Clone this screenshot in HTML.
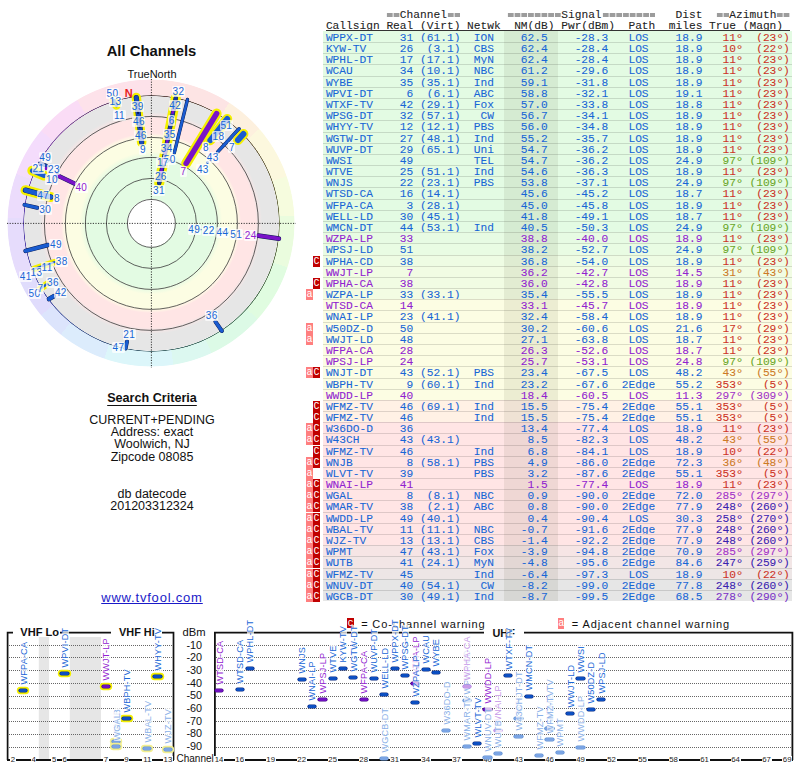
<!DOCTYPE html>
<html><head><meta charset="utf-8"><style>
html,body{margin:0;padding:0;background:#fff;width:800px;height:768px;overflow:hidden;position:relative}
.m{font-family:"Liberation Mono",monospace;font-size:11.217px;white-space:pre;position:absolute;line-height:11.18px;-webkit-text-stroke:0.08px currentColor}
.s{font-family:"Liberation Sans",sans-serif;position:absolute;white-space:pre}
.row{position:absolute;left:323px;width:469px}
.nmc{position:absolute;left:181px;width:54px;top:0;height:100%;background:rgba(40,40,0,0.075)}
.ln{position:absolute;left:0;width:100%;height:1px;background:rgba(0,0,0,0.13)}
.tx{position:absolute;left:2.9px;top:2.1px}
.wa{position:absolute;left:306px;width:7px;height:11px;background:#ff7f7f;color:#fff}
.wc{position:absolute;left:313px;width:7px;height:11px;background:#c00000;color:#fff}
.wl{font-family:"Liberation Mono",monospace;font-size:10px;line-height:11px;text-align:center;position:absolute;left:0;top:0;width:7px}
.dg{display:inline-block;width:6.73px;font-size:13.5px;line-height:10px;vertical-align:top;text-indent:-0.4px;position:relative;top:1.6px}
.g{color:transparent;-webkit-text-stroke:0;background-image:linear-gradient(to right,#9c9c9c 0,#9c9c9c 5.3px,transparent 5.3px),linear-gradient(to right,#9c9c9c 0,#9c9c9c 5.3px,transparent 5.3px);background-size:6.73px 1.6px,6.73px 1.6px;background-repeat:repeat-x;background-position:0.9px 4.3px,0.9px 6.5px}
</style></head><body>
<div class="m" style="left:325.9px;top:9.5px;color:#222">         <span class="g">==</span>Channel<span class="g">==</span>       <span class="g">========</span>Signal<span class="g">========</span>   Dist  <span class="g">==</span>Azimuth<span class="g">==</span></div><div class="m" style="left:325.9px;top:20.7px;color:#222">Callsign Real (Virt) Netwk  NM(dB) Pwr(dBm)  Path  miles True (Magn)</div><div style="position:absolute;left:325.9px;top:30px;width:464.37px;height:1px;background:#333"></div><div class="row" style="top:31px;height:11px;background:#e3fbe3"><div class="nmc"></div><div class="m tx" style="color:#1866d6">WPPX-DT    31 (61.1)  ION    62.5    -28.3   LOS    18.9  <span style="color:#cc3326"> 11<span class="dg">°</span>  (23<span class="dg">°</span>)</span></div></div><div class="row" style="top:42px;height:11px;background:#e3fbe3"><div class="nmc"></div><div class="ln" style="top:0"></div><div class="m tx" style="color:#1866d6">KYW-TV     26  (3.1)  CBS    62.4    -28.4   LOS    18.9  <span style="color:#cc3326"> 10<span class="dg">°</span>  (22<span class="dg">°</span>)</span></div></div><div class="row" style="top:53px;height:11px;background:#e3fbe3"><div class="nmc"></div><div class="ln" style="top:0"></div><div class="m tx" style="color:#1866d6">WPHL-DT    17 (17.1)  MyN    62.4    -28.4   LOS    18.9  <span style="color:#cc3326"> 11<span class="dg">°</span>  (23<span class="dg">°</span>)</span></div></div><div class="row" style="top:64px;height:12px;background:#e3fbe3"><div class="nmc"></div><div class="ln" style="top:0"></div><div class="m tx" style="color:#1866d6">WCAU       34 (10.1)  NBC    61.2    -29.6   LOS    18.9  <span style="color:#cc3326"> 11<span class="dg">°</span>  (23<span class="dg">°</span>)</span></div></div><div class="row" style="top:76px;height:11px;background:#e3fbe3"><div class="nmc"></div><div class="ln" style="top:0"></div><div class="m tx" style="color:#1866d6">WYBE       35 (35.1)  Ind    59.1    -31.8   LOS    18.9  <span style="color:#cc3326"> 11<span class="dg">°</span>  (23<span class="dg">°</span>)</span></div></div><div class="row" style="top:87px;height:11px;background:#e3fbe3"><div class="nmc"></div><div class="ln" style="top:0"></div><div class="m tx" style="color:#1866d6">WPVI-DT     6  (6.1)  ABC    58.8    -32.1   LOS    19.1  <span style="color:#cc3326"> 11<span class="dg">°</span>  (23<span class="dg">°</span>)</span></div></div><div class="row" style="top:98px;height:11px;background:#e3fbe3"><div class="nmc"></div><div class="ln" style="top:0"></div><div class="m tx" style="color:#1866d6">WTXF-TV    42 (29.1)  Fox    57.0    -33.8   LOS    18.8  <span style="color:#cc3326"> 11<span class="dg">°</span>  (23<span class="dg">°</span>)</span></div></div><div class="row" style="top:109px;height:11px;background:#e3fbe3"><div class="nmc"></div><div class="ln" style="top:0"></div><div class="m tx" style="color:#1866d6">WPSG-DT    32 (57.1)   CW    56.7    -34.1   LOS    18.9  <span style="color:#cc3326"> 11<span class="dg">°</span>  (23<span class="dg">°</span>)</span></div></div><div class="row" style="top:120px;height:12px;background:#e3fbe3"><div class="nmc"></div><div class="ln" style="top:0"></div><div class="m tx" style="color:#1866d6">WHYY-TV    12 (12.1)  PBS    56.0    -34.8   LOS    18.9  <span style="color:#cc3326"> 11<span class="dg">°</span>  (23<span class="dg">°</span>)</span></div></div><div class="row" style="top:132px;height:11px;background:#e3fbe3"><div class="nmc"></div><div class="ln" style="top:0"></div><div class="m tx" style="color:#1866d6">WGTW-DT    27 (48.1)  Ind    55.2    -35.7   LOS    18.9  <span style="color:#cc3326"> 11<span class="dg">°</span>  (23<span class="dg">°</span>)</span></div></div><div class="row" style="top:143px;height:11px;background:#e3fbe3"><div class="nmc"></div><div class="ln" style="top:0"></div><div class="m tx" style="color:#1866d6">WUVP-DT    29 (65.1)  Uni    54.7    -36.2   LOS    18.9  <span style="color:#cc3326"> 11<span class="dg">°</span>  (23<span class="dg">°</span>)</span></div></div><div class="row" style="top:154px;height:11px;background:#e3fbe3"><div class="nmc"></div><div class="ln" style="top:0"></div><div class="m tx" style="color:#1866d6">WWSI       49         TEL    54.7    -36.2   LOS    24.9  <span style="color:#6aa628"> 97<span class="dg">°</span> (109<span class="dg">°</span>)</span></div></div><div class="row" style="top:165px;height:11px;background:#e3fbe3"><div class="nmc"></div><div class="ln" style="top:0"></div><div class="m tx" style="color:#1866d6">WTVE       25 (51.1)  Ind    54.6    -36.3   LOS    18.9  <span style="color:#cc3326"> 11<span class="dg">°</span>  (23<span class="dg">°</span>)</span></div></div><div class="row" style="top:176px;height:11px;background:#e3fbe3"><div class="nmc"></div><div class="ln" style="top:0"></div><div class="m tx" style="color:#1866d6">WNJS       22 (23.1)  PBS    53.8    -37.1   LOS    24.9  <span style="color:#6aa628"> 97<span class="dg">°</span> (109<span class="dg">°</span>)</span></div></div><div class="row" style="top:187px;height:12px;background:#e3fbe3"><div class="nmc"></div><div class="ln" style="top:0"></div><div class="m tx" style="color:#1866d6">WTSD-CA    16 (14.1)         45.6    -45.2   LOS    18.7  <span style="color:#cc3326"> 11<span class="dg">°</span>  (23<span class="dg">°</span>)</span></div></div><div class="row" style="top:199px;height:11px;background:#e3fbe3"><div class="nmc"></div><div class="ln" style="top:0"></div><div class="m tx" style="color:#1866d6">WFPA-CA     3 (28.1)         45.0    -45.8   LOS    18.9  <span style="color:#cc3326"> 11<span class="dg">°</span>  (23<span class="dg">°</span>)</span></div></div><div class="row" style="top:210px;height:11px;background:#e3fbe3"><div class="nmc"></div><div class="ln" style="top:0"></div><div class="m tx" style="color:#1866d6">WELL-LD    30 (45.1)         41.8    -49.1   LOS    18.7  <span style="color:#cc3326"> 11<span class="dg">°</span>  (23<span class="dg">°</span>)</span></div></div><div class="row" style="top:221px;height:11px;background:#e3fbe3"><div class="nmc"></div><div class="ln" style="top:0"></div><div class="m tx" style="color:#1866d6">WMCN-DT    44 (53.1)  Ind    40.5    -50.3   LOS    24.9  <span style="color:#6aa628"> 97<span class="dg">°</span> (109<span class="dg">°</span>)</span></div></div><div class="row" style="top:232px;height:11px;background:#e7fbe3"><div class="nmc"></div><div class="ln" style="top:0"></div><div class="m tx" style="color:#9122d0">WZPA-LP    33                38.8    -40.0   LOS    18.9  <span style="color:#cc3326"> 11<span class="dg">°</span>  (23<span class="dg">°</span>)</span></div></div><div class="row" style="top:243px;height:12px;background:#e9fce3"><div class="nmc"></div><div class="ln" style="top:0"></div><div class="m tx" style="color:#1866d6">WPSJ-LD    51                38.2    -52.7   LOS    24.9  <span style="color:#6aa628"> 97<span class="dg">°</span> (109<span class="dg">°</span>)</span></div></div><div class="row" style="top:255px;height:11px;background:#eefce3"><div class="nmc"></div><div class="ln" style="top:0"></div><div class="m tx" style="color:#1866d6">WPHA-CD    38                36.8    -54.0   LOS    18.9  <span style="color:#cc3326"> 11<span class="dg">°</span>  (23<span class="dg">°</span>)</span></div></div><div class="wc" style="top:256.00px"><span class="wl">C</span></div><div class="row" style="top:266px;height:11px;background:#f1fce3"><div class="nmc"></div><div class="ln" style="top:0"></div><div class="m tx" style="color:#9122d0">WWJT-LP     7                36.2    -42.7   LOS    14.5  <span style="color:#cc7a26"> 31<span class="dg">°</span>  (43<span class="dg">°</span>)</span></div></div><div class="row" style="top:277px;height:11px;background:#f1fce3"><div class="nmc"></div><div class="ln" style="top:0"></div><div class="m tx" style="color:#9122d0">WPHA-CA    38                36.0    -42.8   LOS    18.9  <span style="color:#cc3326"> 11<span class="dg">°</span>  (23<span class="dg">°</span>)</span></div></div><div class="wc" style="top:278.00px"><span class="wl">C</span></div><div class="row" style="top:288px;height:11px;background:#f3fce3"><div class="nmc"></div><div class="ln" style="top:0"></div><div class="m tx" style="color:#1866d6">WZPA-LP    33 (33.1)         35.4    -55.5   LOS    18.9  <span style="color:#cc3326"> 11<span class="dg">°</span>  (23<span class="dg">°</span>)</span></div></div><div class="wa" style="top:289.00px"><span class="wl">a</span></div><div class="row" style="top:299px;height:11px;background:#fcfde3"><div class="nmc"></div><div class="ln" style="top:0"></div><div class="m tx" style="color:#9122d0">WTSD-CA    14                33.1    -45.7   LOS    18.9  <span style="color:#cc3326"> 11<span class="dg">°</span>  (23<span class="dg">°</span>)</span></div></div><div class="row" style="top:310px;height:12px;background:#fcfde3"><div class="nmc"></div><div class="ln" style="top:0"></div><div class="m tx" style="color:#1866d6">WNAI-LP    23 (41.1)         32.4    -58.4   LOS    18.9  <span style="color:#cc3326"> 11<span class="dg">°</span>  (23<span class="dg">°</span>)</span></div></div><div class="row" style="top:322px;height:11px;background:#fcfde3"><div class="nmc"></div><div class="ln" style="top:0"></div><div class="m tx" style="color:#1866d6">W50DZ-D    50                30.2    -60.6   LOS    21.6  <span style="color:#cc3326"> 17<span class="dg">°</span>  (29<span class="dg">°</span>)</span></div></div><div class="wa" style="top:323.00px"><span class="wl">a</span></div><div class="row" style="top:333px;height:11px;background:#fcfde3"><div class="nmc"></div><div class="ln" style="top:0"></div><div class="m tx" style="color:#1866d6">WWJT-LD    48                27.1    -63.8   LOS    18.7  <span style="color:#cc3326"> 11<span class="dg">°</span>  (23<span class="dg">°</span>)</span></div></div><div class="wa" style="top:334.00px"><span class="wl">a</span></div><div class="row" style="top:344px;height:11px;background:#fcfde3"><div class="nmc"></div><div class="ln" style="top:0"></div><div class="m tx" style="color:#9122d0">WFPA-CA    28                26.3    -52.6   LOS    18.7  <span style="color:#cc3326"> 11<span class="dg">°</span>  (23<span class="dg">°</span>)</span></div></div><div class="row" style="top:355px;height:11px;background:#fcfde3"><div class="nmc"></div><div class="ln" style="top:0"></div><div class="m tx" style="color:#9122d0">WPSJ-LP    24                25.7    -53.1   LOS    24.8  <span style="color:#6aa628"> 97<span class="dg">°</span> (109<span class="dg">°</span>)</span></div></div><div class="row" style="top:366px;height:12px;background:#fcfde3"><div class="nmc"></div><div class="ln" style="top:0"></div><div class="m tx" style="color:#1866d6">WNJT-DT    43 (52.1)  PBS    23.4    -67.5   LOS    48.2  <span style="color:#cc7a26"> 43<span class="dg">°</span>  (55<span class="dg">°</span>)</span></div></div><div class="wa" style="top:367.00px"><span class="wl">a</span></div><div class="wc" style="top:367.00px"><span class="wl">C</span></div><div class="row" style="top:378px;height:11px;background:#fcfde3"><div class="nmc"></div><div class="ln" style="top:0"></div><div class="m tx" style="color:#1866d6">WBPH-TV     9 (60.1)  Ind    23.2    -67.6  2Edge   55.2  <span style="color:#cc3326">353<span class="dg">°</span>   (5<span class="dg">°</span>)</span></div></div><div class="row" style="top:389px;height:11px;background:#fcfde3"><div class="nmc"></div><div class="ln" style="top:0"></div><div class="m tx" style="color:#9122d0">WWDD-LP    40                18.4    -60.5   LOS    11.3  <span style="color:#a232c8">297<span class="dg">°</span> (309<span class="dg">°</span>)</span></div></div><div class="row" style="top:400px;height:11px;background:#fff1e5"><div class="nmc"></div><div class="ln" style="top:0"></div><div class="m tx" style="color:#1866d6">WFMZ-TV    46 (69.1)  Ind    15.5    -75.4  2Edge   55.1  <span style="color:#cc3326">353<span class="dg">°</span>   (5<span class="dg">°</span>)</span></div></div><div class="wc" style="top:401.00px"><span class="wl">C</span></div><div class="row" style="top:411px;height:11px;background:#fff1e5"><div class="nmc"></div><div class="ln" style="top:0"></div><div class="m tx" style="color:#1866d6">WFMZ-TV    46         Ind    15.5    -75.4  2Edge   55.1  <span style="color:#cc3326">353<span class="dg">°</span>   (5<span class="dg">°</span>)</span></div></div><div class="wc" style="top:412.00px"><span class="wl">C</span></div><div class="row" style="top:422px;height:11px;background:#ffe5e5"><div class="nmc"></div><div class="ln" style="top:0"></div><div class="m tx" style="color:#1866d6">W36DO-D    36                13.4    -77.4   LOS    18.9  <span style="color:#cc3326"> 11<span class="dg">°</span>  (23<span class="dg">°</span>)</span></div></div><div class="wa" style="top:423.00px"><span class="wl">a</span></div><div class="wc" style="top:423.00px"><span class="wl">C</span></div><div class="row" style="top:433px;height:12px;background:#ffe5e5"><div class="nmc"></div><div class="ln" style="top:0"></div><div class="m tx" style="color:#1866d6">W43CH      43 (43.1)          8.5    -82.3   LOS    48.2  <span style="color:#cc7a26"> 43<span class="dg">°</span>  (55<span class="dg">°</span>)</span></div></div><div class="wa" style="top:434.00px"><span class="wl">a</span></div><div class="wc" style="top:434.00px"><span class="wl">C</span></div><div class="row" style="top:445px;height:11px;background:#ffe5e5"><div class="nmc"></div><div class="ln" style="top:0"></div><div class="m tx" style="color:#1866d6">WFMZ-TV    46         Ind     6.8    -84.1   LOS    18.9  <span style="color:#cc3326"> 10<span class="dg">°</span>  (22<span class="dg">°</span>)</span></div></div><div class="wc" style="top:446.00px"><span class="wl">C</span></div><div class="row" style="top:456px;height:11px;background:#ffe5e5"><div class="nmc"></div><div class="ln" style="top:0"></div><div class="m tx" style="color:#1866d6">WNJB        8 (58.1)  PBS     4.9    -86.0  2Edge   72.3  <span style="color:#cc7a26"> 36<span class="dg">°</span>  (48<span class="dg">°</span>)</span></div></div><div class="wa" style="top:457.00px"><span class="wl">a</span></div><div class="wc" style="top:457.00px"><span class="wl">C</span></div><div class="row" style="top:467px;height:11px;background:#ffe5e5"><div class="nmc"></div><div class="ln" style="top:0"></div><div class="m tx" style="color:#1866d6">WLVT-TV    39         PBS     3.2    -87.6  2Edge   55.1  <span style="color:#cc3326">353<span class="dg">°</span>   (5<span class="dg">°</span>)</span></div></div><div class="wa" style="top:468.00px"><span class="wl">a</span></div><div class="row" style="top:478px;height:11px;background:#ffe5e5"><div class="nmc"></div><div class="ln" style="top:0"></div><div class="m tx" style="color:#9122d0">WNAI-LP    41                 1.5    -77.4   LOS    18.9  <span style="color:#cc3326"> 11<span class="dg">°</span>  (23<span class="dg">°</span>)</span></div></div><div class="wa" style="top:479.00px"><span class="wl">a</span></div><div class="wc" style="top:479.00px"><span class="wl">C</span></div><div class="row" style="top:489px;height:11px;background:#ffe5e5"><div class="nmc"></div><div class="ln" style="top:0"></div><div class="m tx" style="color:#1866d6">WGAL        8  (8.1)  NBC     0.9    -90.0  2Edge   72.0  <span style="color:#a232c8">285<span class="dg">°</span> (297<span class="dg">°</span>)</span></div></div><div class="wa" style="top:490.00px"><span class="wl">a</span></div><div class="wc" style="top:490.00px"><span class="wl">C</span></div><div class="row" style="top:500px;height:12px;background:#ffe5e5"><div class="nmc"></div><div class="ln" style="top:0"></div><div class="m tx" style="color:#1866d6">WMAR-TV    38  (2.1)  ABC     0.8    -90.0  2Edge   77.9  <span style="color:#3a22b0">248<span class="dg">°</span> (260<span class="dg">°</span>)</span></div></div><div class="wa" style="top:501.00px"><span class="wl">a</span></div><div class="wc" style="top:501.00px"><span class="wl">C</span></div><div class="row" style="top:512px;height:11px;background:#ffe5e5"><div class="nmc"></div><div class="ln" style="top:0"></div><div class="m tx" style="color:#1866d6">WWDD-LP    49 (40.1)          0.4    -90.4   LOS    30.3  <span style="color:#3a22b0">258<span class="dg">°</span> (270<span class="dg">°</span>)</span></div></div><div class="wa" style="top:513.00px"><span class="wl">a</span></div><div class="wc" style="top:513.00px"><span class="wl">C</span></div><div class="row" style="top:523px;height:11px;background:#ffe5e5"><div class="nmc"></div><div class="ln" style="top:0"></div><div class="m tx" style="color:#1866d6">WBAL-TV    11 (11.1)  NBC    -0.7    -91.6  2Edge   77.9  <span style="color:#3a22b0">248<span class="dg">°</span> (260<span class="dg">°</span>)</span></div></div><div class="wa" style="top:524.00px"><span class="wl">a</span></div><div class="wc" style="top:524.00px"><span class="wl">C</span></div><div class="row" style="top:534px;height:11px;background:#ffe5e5"><div class="nmc"></div><div class="ln" style="top:0"></div><div class="m tx" style="color:#1866d6">WJZ-TV     13 (13.1)  CBS    -1.4    -92.2  2Edge   77.9  <span style="color:#3a22b0">248<span class="dg">°</span> (260<span class="dg">°</span>)</span></div></div><div class="wa" style="top:535.00px"><span class="wl">a</span></div><div class="wc" style="top:535.00px"><span class="wl">C</span></div><div class="row" style="top:545px;height:11px;background:#f6e5e5"><div class="nmc"></div><div class="ln" style="top:0"></div><div class="m tx" style="color:#1866d6">WPMT       47 (43.1)  Fox    -3.9    -94.8  2Edge   70.9  <span style="color:#a232c8">285<span class="dg">°</span> (297<span class="dg">°</span>)</span></div></div><div class="wa" style="top:546.00px"><span class="wl">a</span></div><div class="wc" style="top:546.00px"><span class="wl">C</span></div><div class="row" style="top:556px;height:12px;background:#f2e6e6"><div class="nmc"></div><div class="ln" style="top:0"></div><div class="m tx" style="color:#1866d6">WUTB       41 (24.1)  MyN    -4.8    -95.6  2Edge   84.6  <span style="color:#3a22b0">247<span class="dg">°</span> (259<span class="dg">°</span>)</span></div></div><div class="wa" style="top:557.00px"><span class="wl">a</span></div><div class="wc" style="top:557.00px"><span class="wl">C</span></div><div class="row" style="top:568px;height:11px;background:#ede6e6"><div class="nmc"></div><div class="ln" style="top:0"></div><div class="m tx" style="color:#1866d6">WFMZ-TV    45         Ind    -6.4    -97.3   LOS    18.9  <span style="color:#cc3326"> 10<span class="dg">°</span>  (22<span class="dg">°</span>)</span></div></div><div class="wa" style="top:569.00px"><span class="wl">a</span></div><div class="wc" style="top:569.00px"><span class="wl">C</span></div><div class="row" style="top:579px;height:11px;background:#e6e6e6"><div class="nmc"></div><div class="ln" style="top:0"></div><div class="m tx" style="color:#1866d6">WNUV-DT    40 (54.1)   CW    -8.2    -99.0  2Edge   77.8  <span style="color:#3a22b0">248<span class="dg">°</span> (260<span class="dg">°</span>)</span></div></div><div class="wa" style="top:580.00px"><span class="wl">a</span></div><div class="wc" style="top:580.00px"><span class="wl">C</span></div><div class="row" style="top:590px;height:11px;background:#e6e6e6"><div class="nmc"></div><div class="ln" style="top:0"></div><div class="m tx" style="color:#1866d6">WGCB-DT    30 (49.1)  Ind    -8.7    -99.5  2Edge   68.5  <span style="color:#7a32c8">278<span class="dg">°</span> (290<span class="dg">°</span>)</span></div></div><div class="wa" style="top:591.00px"><span class="wl">a</span></div><div class="wc" style="top:591.00px"><span class="wl">C</span></div><div class="s" style="left:0;width:303px;text-align:center;top:42.8px;font-size:14.8px;font-weight:bold;line-height:16px;color:#111">All Channels</div><div class="s" style="left:0;width:304px;text-align:center;top:67.7px;font-size:11px;line-height:12px;color:#111">TrueNorth</div><div style="position:absolute;left:7.400000000000006px;top:79.4px;width:288px;height:288px;border-radius:50%;
background:conic-gradient(from 0deg, #fde4e4 0deg 33deg, #fdf0de 33deg 49deg, #fcf8de 49deg 71deg, #f6fcde 71deg 87deg, #eafcde 87deg 108deg, #e0fce0 108deg 132deg, #dcfae6 132deg 155deg, #dcf8f0 155deg 171deg, #dcf6fa 171deg 199deg, #dcecfc 199deg 219deg, #dce4fc 219deg 230deg, #e0dcfc 230deg 249deg, #e6dcfc 249deg 272deg, #ecdcfc 272deg 290deg, #f4dcfc 290deg 310deg, #fadcf6 310deg 329deg, #fde2ea 329deg 360deg);
-webkit-mask-image:radial-gradient(circle closest-side, transparent 0, transparent 88.6%, #000 88.9%, #000 99.3%, rgba(0,0,0,0) 100%);
mask-image:radial-gradient(circle closest-side, transparent 0, transparent 88.6%, #000 88.9%, #000 99.3%, rgba(0,0,0,0) 100%)"></div><div style="position:absolute;left:23.400000000000006px;top:95.4px;width:256px;height:256px;border-radius:50%;
background:radial-gradient(circle closest-side, #fff 0, #fff 18.6%, #e3fbe3 18.9%, #e3fbe3 50.5%, #fcfde3 55.7%, #fcfde3 66.6%, #fff1e5 68.8%, #ffe5e5 70.3%, #ffe5e5 81.5%, #e6e6e6 86.7%, #e6e6e6 100%)"></div><div style="position:absolute;left:22.700000000000017px;top:94.70000000000002px;width:257.4px;height:257.4px;border-radius:50%;
background:conic-gradient(from 0deg, #604848 0deg, #706048 45deg, #6a7048 90deg, #487058 135deg, #486a70 180deg, #4858a0 225deg, #5a40b0 270deg, #8040a0 315deg, #604848 360deg);
-webkit-mask-image:radial-gradient(circle closest-side, transparent 0, transparent 98.9%, #000 99.3%, #000 99.8%, transparent 100%);
mask-image:radial-gradient(circle closest-side, transparent 0, transparent 98.9%, #000 99.3%, #000 99.8%, transparent 100%)"></div><svg style="position:absolute;left:0;top:0" width="305" height="380" viewBox="0 0 305 380"><circle cx="151.4" cy="223.4" r="24" fill="none" stroke="#3a3a3a" stroke-width="0.8"/><circle cx="151.4" cy="223.4" r="45" fill="none" stroke="#3a3a3a" stroke-width="0.8"/><circle cx="151.4" cy="223.4" r="66" fill="none" stroke="#3a3a3a" stroke-width="0.8"/><circle cx="151.4" cy="223.4" r="86" fill="none" stroke="#3a3a3a" stroke-width="0.8"/><circle cx="151.4" cy="223.4" r="107" fill="none" stroke="#3a3a3a" stroke-width="0.8"/><line x1="7" y1="223.4" x2="296" y2="223.4" stroke="#222" stroke-width="0.9" stroke-dasharray="1.2,1.4"/><line x1="151.4" y1="79" x2="151.4" y2="368" stroke="#222" stroke-width="0.9" stroke-dasharray="1.2,1.4"/><line x1="159.2" y1="183.2" x2="175.8" y2="97.8" stroke="#f4f000" stroke-width="10" stroke-linecap="round"/><line x1="159.2" y1="183.2" x2="175.8" y2="97.8" stroke="#0a1a50" stroke-width="4.4" stroke-linecap="round"/><line x1="159.2" y1="183.2" x2="175.8" y2="97.8" stroke="#1a3a9a" stroke-width="3.6" stroke-linecap="round"/><line x1="161" y1="173" x2="174" y2="106" stroke="#7a12c8" stroke-width="2.4" stroke-dasharray="5,5"/><line x1="174.3" y1="152.9" x2="187.5" y2="99.5" stroke="#0a1a50" stroke-width="3.4000000000000004" stroke-linecap="round"/><line x1="174.3" y1="152.9" x2="187.5" y2="99.5" stroke="#1a5cd0" stroke-width="2.6" stroke-linecap="round"/><line x1="186.2" y1="163.4" x2="216.6" y2="113.6" stroke="#f4f000" stroke-width="10" stroke-linecap="round"/><line x1="186.2" y1="163.4" x2="216.6" y2="113.6" stroke="#7a12c8" stroke-width="5.6" stroke-linecap="round"/><line x1="210.3" y1="140.3" x2="227.3" y2="118.9" stroke="#f4f000" stroke-width="9.8" stroke-linecap="round"/><line x1="210.3" y1="140.3" x2="227.3" y2="118.9" stroke="#1a5cd0" stroke-width="5.8" stroke-linecap="round"/><line x1="217.7" y1="151.9" x2="239.1" y2="128.8" stroke="#0a1a50" stroke-width="3.5999999999999996" stroke-linecap="round"/><line x1="217.7" y1="151.9" x2="239.1" y2="128.8" stroke="#1a5cd0" stroke-width="2.8" stroke-linecap="round"/><circle cx="207.5" cy="162.5" r="1.4" fill="#1a5cd0"/><line x1="238" y1="140" x2="243.4" y2="134" stroke="#f4f000" stroke-width="10" stroke-linecap="round"/><line x1="238" y1="140" x2="243.4" y2="134" stroke="#1a5cd0" stroke-width="6" stroke-linecap="round"/><line x1="136.3" y1="97.5" x2="141.7" y2="142.4" stroke="#f4f000" stroke-width="9.5" stroke-linecap="round"/><line x1="136.3" y1="97.5" x2="141.7" y2="142.4" stroke="#0a1a50" stroke-width="5.2" stroke-linecap="round"/><line x1="136.3" y1="97.5" x2="141.7" y2="142.4" stroke="#1a4ab8" stroke-width="4.4" stroke-linecap="round"/><line x1="137" y1="104" x2="141" y2="138" stroke="#0a1a60" stroke-width="1.8" stroke-dasharray="3,4"/><line x1="113.5" y1="99.5" x2="116.5" y2="105.5" stroke="#f4f000" stroke-width="8.5" stroke-linecap="round"/><line x1="113.5" y1="99.5" x2="116.5" y2="105.5" stroke="#1a5cd0" stroke-width="3.4" stroke-linecap="round"/><line x1="32.3" y1="170.7" x2="44" y2="175.6" stroke="#f4f000" stroke-width="10" stroke-linecap="round"/><line x1="32.3" y1="170.7" x2="44" y2="175.6" stroke="#1a5cd0" stroke-width="4.8" stroke-linecap="round"/><line x1="40" y1="163" x2="47" y2="166" stroke="#0a1a50" stroke-width="3.5999999999999996" stroke-linecap="round"/><line x1="40" y1="163" x2="47" y2="166" stroke="#1a4ab8" stroke-width="2.8" stroke-linecap="round"/><circle cx="46" cy="168.5" r="1.7" fill="#7a12c8"/><line x1="57.7" y1="175.6" x2="74.3" y2="183.4" stroke="#0a1a50" stroke-width="4.4" stroke-linecap="round"/><line x1="57.7" y1="175.6" x2="74.3" y2="183.4" stroke="#7a12c8" stroke-width="3.6" stroke-linecap="round"/><line x1="25.5" y1="190.2" x2="50.9" y2="197" stroke="#f4f000" stroke-width="10" stroke-linecap="round"/><line x1="25.5" y1="190.2" x2="50.9" y2="197" stroke="#0a1a50" stroke-width="5.3999999999999995" stroke-linecap="round"/><line x1="25.5" y1="190.2" x2="50.9" y2="197" stroke="#1a5cd0" stroke-width="4.6" stroke-linecap="round"/><line x1="24.5" y1="204.9" x2="37.2" y2="207.8" stroke="#0a1a50" stroke-width="4.0" stroke-linecap="round"/><line x1="24.5" y1="204.9" x2="37.2" y2="207.8" stroke="#1a5cd0" stroke-width="3.2" stroke-linecap="round"/><line x1="25.5" y1="250.9" x2="48" y2="245" stroke="#0a1a50" stroke-width="4.4" stroke-linecap="round"/><line x1="25.5" y1="250.9" x2="48" y2="245" stroke="#1a5cd0" stroke-width="3.6" stroke-linecap="round"/><line x1="34.3" y1="268.8" x2="54.8" y2="262" stroke="#f4f000" stroke-width="6.5" stroke-linecap="round"/><line x1="34.3" y1="268.8" x2="54.8" y2="262" stroke="#1a5cd0" stroke-width="2" stroke-linecap="round"/><line x1="40" y1="289" x2="47" y2="284" stroke="#f4f000" stroke-width="6.5" stroke-linecap="round"/><line x1="40" y1="289" x2="47" y2="284" stroke="#1a5cd0" stroke-width="2.2" stroke-linecap="round"/><line x1="49" y1="299" x2="53.8" y2="296.2" stroke="#0a1a50" stroke-width="4.6" stroke-linecap="round"/><line x1="49" y1="299" x2="53.8" y2="296.2" stroke="#1a5cd0" stroke-width="3.8" stroke-linecap="round"/><line x1="125.5" y1="348.5" x2="127" y2="341.5" stroke="#0a1a50" stroke-width="4.0" stroke-linecap="round"/><line x1="125.5" y1="348.5" x2="127" y2="341.5" stroke="#1a5cd0" stroke-width="3.2" stroke-linecap="round"/><line x1="200" y1="229.5" x2="258" y2="235.5" stroke="#1a4ab8" stroke-width="1.3" stroke-dasharray="1.5,4"/><line x1="258.4" y1="235.6" x2="278.9" y2="238.6" stroke="#0a1a50" stroke-width="4.6" stroke-linecap="round"/><line x1="258.4" y1="235.6" x2="278.9" y2="238.6" stroke="#7a12c8" stroke-width="3.8" stroke-linecap="round"/><line x1="215.4" y1="321.6" x2="221.9" y2="331" stroke="#0a1a50" stroke-width="4.0" stroke-linecap="round"/><line x1="215.4" y1="321.6" x2="221.9" y2="331" stroke="#1a5cd0" stroke-width="3.2" stroke-linecap="round"/></svg><div class="s" style="left:171.8px;top:86.4px;width:13.0px;text-align:center;font-size:10px;letter-spacing:0.4px;text-indent:0.4px;line-height:11px;color:#1866d6;background:rgba(255,255,255,0.72);border-radius:1.5px">32</div><div class="s" style="left:168.5px;top:99.7px;width:13.0px;text-align:center;font-size:10px;letter-spacing:0.4px;text-indent:0.4px;line-height:11px;color:#1866d6;background:rgba(255,255,255,0.72);border-radius:1.5px">42</div><div class="s" style="left:168.0px;top:114.7px;width:7.0px;text-align:center;font-size:10px;letter-spacing:0.4px;text-indent:0.4px;line-height:11px;color:#1866d6;background:rgba(255,255,255,0.72);border-radius:1.5px">6</div><div class="s" style="left:163.0px;top:129.0px;width:13.0px;text-align:center;font-size:10px;letter-spacing:0.4px;text-indent:0.4px;line-height:11px;color:#1866d6;background:rgba(255,255,255,0.72);border-radius:1.5px">35</div><div class="s" style="left:160.1px;top:143.1px;width:13.0px;text-align:center;font-size:10px;letter-spacing:0.4px;text-indent:0.4px;line-height:11px;color:#1866d6;background:rgba(255,255,255,0.72);border-radius:1.5px">34</div><div class="s" style="left:163.0px;top:153.7px;width:13.0px;text-align:center;font-size:10px;letter-spacing:0.4px;text-indent:0.4px;line-height:11px;color:#1866d6;background:rgba(255,255,255,0.72);border-radius:1.5px">50</div><div class="s" style="left:156.2px;top:156.7px;width:13.0px;text-align:center;font-size:10px;letter-spacing:0.4px;text-indent:0.4px;line-height:11px;color:#1866d6;background:rgba(255,255,255,0.72);border-radius:1.5px">17</div><div class="s" style="left:154.2px;top:170.7px;width:13.0px;text-align:center;font-size:10px;letter-spacing:0.4px;text-indent:0.4px;line-height:11px;color:#1866d6;background:rgba(255,255,255,0.72);border-radius:1.5px">26</div><div class="s" style="left:152.3px;top:185.0px;width:13.0px;text-align:center;font-size:10px;letter-spacing:0.4px;text-indent:0.4px;line-height:11px;color:#1866d6;background:rgba(255,255,255,0.72);border-radius:1.5px">31</div><div class="s" style="left:179.7px;top:165.5px;width:7.0px;text-align:center;font-size:10px;letter-spacing:0.4px;text-indent:0.4px;line-height:11px;color:#9122d0;background:rgba(255,255,255,0.72);border-radius:1.5px">7</div><div class="s" style="left:196.2px;top:163.6px;width:13.0px;text-align:center;font-size:10px;letter-spacing:0.4px;text-indent:0.4px;line-height:11px;color:#1866d6;background:rgba(255,255,255,0.72);border-radius:1.5px">43</div><div class="s" style="left:206.0px;top:151.8px;width:13.0px;text-align:center;font-size:10px;letter-spacing:0.4px;text-indent:0.4px;line-height:11px;color:#1866d6;background:rgba(255,255,255,0.72);border-radius:1.5px">43</div><div class="s" style="left:202.2px;top:142.1px;width:7.0px;text-align:center;font-size:10px;letter-spacing:0.4px;text-indent:0.4px;line-height:11px;color:#1866d6;background:rgba(255,255,255,0.72);border-radius:1.5px">8</div><div class="s" style="left:211.9px;top:131.3px;width:13.0px;text-align:center;font-size:10px;letter-spacing:0.4px;text-indent:0.4px;line-height:11px;color:#1866d6;background:rgba(255,255,255,0.72);border-radius:1.5px">18</div><div class="s" style="left:219.7px;top:120.0px;width:13.0px;text-align:center;font-size:10px;letter-spacing:0.4px;text-indent:0.4px;line-height:11px;color:#1866d6;background:rgba(255,255,255,0.72);border-radius:1.5px">51</div><div class="s" style="left:228.2px;top:142.3px;width:7.0px;text-align:center;font-size:10px;letter-spacing:0.4px;text-indent:0.4px;line-height:11px;color:#1866d6;background:rgba(255,255,255,0.72);border-radius:1.5px">7</div><div class="s" style="left:131.1px;top:101.0px;width:13.0px;text-align:center;font-size:10px;letter-spacing:0.4px;text-indent:0.4px;line-height:11px;color:#1866d6;background:rgba(255,255,255,0.72);border-radius:1.5px">39</div><div class="s" style="left:132.3px;top:115.6px;width:13.0px;text-align:center;font-size:10px;letter-spacing:0.4px;text-indent:0.4px;line-height:11px;color:#1866d6;background:rgba(255,255,255,0.72);border-radius:1.5px">46</div><div class="s" style="left:134.2px;top:129.9px;width:13.0px;text-align:center;font-size:10px;letter-spacing:0.4px;text-indent:0.4px;line-height:11px;color:#1866d6;background:rgba(255,255,255,0.72);border-radius:1.5px">46</div><div class="s" style="left:139.2px;top:143.5px;width:7.0px;text-align:center;font-size:10px;letter-spacing:0.4px;text-indent:0.4px;line-height:11px;color:#1866d6;background:rgba(255,255,255,0.72);border-radius:1.5px">9</div><div class="s" style="left:105.9px;top:88.3px;width:13.0px;text-align:center;font-size:10px;letter-spacing:0.4px;text-indent:0.4px;line-height:11px;color:#1866d6;background:rgba(255,255,255,0.72);border-radius:1.5px">50</div><div class="s" style="left:108.9px;top:96.1px;width:13.0px;text-align:center;font-size:10px;letter-spacing:0.4px;text-indent:0.4px;line-height:11px;color:#1866d6;background:rgba(255,255,255,0.72);border-radius:1.5px">13</div><div class="s" style="left:112.8px;top:109.7px;width:13.0px;text-align:center;font-size:10px;letter-spacing:0.4px;text-indent:0.4px;line-height:11px;color:#1866d6;background:rgba(255,255,255,0.72);border-radius:1.5px">11</div><div class="s" style="left:38.5px;top:151.7px;width:13.0px;text-align:center;font-size:10px;letter-spacing:0.4px;text-indent:0.4px;line-height:11px;color:#1866d6;background:rgba(255,255,255,0.72);border-radius:1.5px">49</div><div class="s" style="left:31.7px;top:163.4px;width:13.0px;text-align:center;font-size:10px;letter-spacing:0.4px;text-indent:0.4px;line-height:11px;color:#1866d6;background:rgba(255,255,255,0.72);border-radius:1.5px">21</div><div class="s" style="left:47.3px;top:164.4px;width:13.0px;text-align:center;font-size:10px;letter-spacing:0.4px;text-indent:0.4px;line-height:11px;color:#1866d6;background:rgba(255,255,255,0.72);border-radius:1.5px">23</div><div class="s" style="left:45.4px;top:174.2px;width:13.0px;text-align:center;font-size:10px;letter-spacing:0.4px;text-indent:0.4px;line-height:11px;color:#1866d6;background:rgba(255,255,255,0.72);border-radius:1.5px">10</div><div class="s" style="left:74.7px;top:182.0px;width:13.0px;text-align:center;font-size:10px;letter-spacing:0.4px;text-indent:0.4px;line-height:11px;color:#9122d0;background:rgba(255,255,255,0.72);border-radius:1.5px">40</div><div class="s" style="left:36.5px;top:189.7px;width:13.0px;text-align:center;font-size:10px;letter-spacing:0.4px;text-indent:0.4px;line-height:11px;color:#1866d6;background:rgba(255,255,255,0.72);border-radius:1.5px">47</div><div class="s" style="left:53.3px;top:192.7px;width:7.0px;text-align:center;font-size:10px;letter-spacing:0.4px;text-indent:0.4px;line-height:11px;color:#1866d6;background:rgba(255,255,255,0.72);border-radius:1.5px">8</div><div class="s" style="left:38.5px;top:203.5px;width:13.0px;text-align:center;font-size:10px;letter-spacing:0.4px;text-indent:0.4px;line-height:11px;color:#1866d6;background:rgba(255,255,255,0.72);border-radius:1.5px">30</div><div class="s" style="left:49.3px;top:239.1px;width:13.0px;text-align:center;font-size:10px;letter-spacing:0.4px;text-indent:0.4px;line-height:11px;color:#1866d6;background:rgba(255,255,255,0.72);border-radius:1.5px">49</div><div class="s" style="left:19.0px;top:270.9px;width:13.0px;text-align:center;font-size:10px;letter-spacing:0.4px;text-indent:0.4px;line-height:11px;color:#1866d6;background:rgba(255,255,255,0.72);border-radius:1.5px">41</div><div class="s" style="left:29.8px;top:267.0px;width:13.0px;text-align:center;font-size:10px;letter-spacing:0.4px;text-indent:0.4px;line-height:11px;color:#1866d6;background:rgba(255,255,255,0.72);border-radius:1.5px">13</div><div class="s" style="left:40.5px;top:261.6px;width:13.0px;text-align:center;font-size:10px;letter-spacing:0.4px;text-indent:0.4px;line-height:11px;color:#1866d6;background:rgba(255,255,255,0.72);border-radius:1.5px">11</div><div class="s" style="left:55.1px;top:255.7px;width:13.0px;text-align:center;font-size:10px;letter-spacing:0.4px;text-indent:0.4px;line-height:11px;color:#1866d6;background:rgba(255,255,255,0.72);border-radius:1.5px">38</div><div class="s" style="left:46.4px;top:276.8px;width:13.0px;text-align:center;font-size:10px;letter-spacing:0.4px;text-indent:0.4px;line-height:11px;color:#1866d6;background:rgba(255,255,255,0.72);border-radius:1.5px">36</div><div class="s" style="left:27.8px;top:287.9px;width:13.0px;text-align:center;font-size:10px;letter-spacing:0.4px;text-indent:0.4px;line-height:11px;color:#1866d6;background:rgba(255,255,255,0.72);border-radius:1.5px">50</div><div class="s" style="left:36.7px;top:283.1px;width:7.0px;text-align:center;font-size:10px;letter-spacing:0.4px;text-indent:0.4px;line-height:11px;color:#1866d6;background:rgba(255,255,255,0.72);border-radius:1.5px">7</div><div class="s" style="left:54.2px;top:287.4px;width:13.0px;text-align:center;font-size:10px;letter-spacing:0.4px;text-indent:0.4px;line-height:11px;color:#1866d6;background:rgba(255,255,255,0.72);border-radius:1.5px">42</div><div class="s" style="left:122.5px;top:329.0px;width:13.0px;text-align:center;font-size:10px;letter-spacing:0.4px;text-indent:0.4px;line-height:11px;color:#1866d6;background:rgba(255,255,255,0.72);border-radius:1.5px">21</div><div class="s" style="left:111.8px;top:342.0px;width:13.0px;text-align:center;font-size:10px;letter-spacing:0.4px;text-indent:0.4px;line-height:11px;color:#1866d6;background:rgba(255,255,255,0.72);border-radius:1.5px">47</div><div class="s" style="left:187.5px;top:223.5px;width:13.0px;text-align:center;font-size:10px;letter-spacing:0.4px;text-indent:0.4px;line-height:11px;color:#1866d6;background:rgba(255,255,255,0.72);border-radius:1.5px">49</div><div class="s" style="left:202.1px;top:225.4px;width:13.0px;text-align:center;font-size:10px;letter-spacing:0.4px;text-indent:0.4px;line-height:11px;color:#1866d6;background:rgba(255,255,255,0.72);border-radius:1.5px">22</div><div class="s" style="left:215.8px;top:227.4px;width:13.0px;text-align:center;font-size:10px;letter-spacing:0.4px;text-indent:0.4px;line-height:11px;color:#1866d6;background:rgba(255,255,255,0.72);border-radius:1.5px">44</div><div class="s" style="left:229.5px;top:229.3px;width:13.0px;text-align:center;font-size:10px;letter-spacing:0.4px;text-indent:0.4px;line-height:11px;color:#1866d6;background:rgba(255,255,255,0.72);border-radius:1.5px">51</div><div class="s" style="left:244.1px;top:229.9px;width:13.0px;text-align:center;font-size:10px;letter-spacing:0.4px;text-indent:0.4px;line-height:11px;color:#9122d0;background:rgba(255,255,255,0.72);border-radius:1.5px">24</div><div class="s" style="left:205.0px;top:310.4px;width:13.0px;text-align:center;font-size:10px;letter-spacing:0.4px;text-indent:0.4px;line-height:11px;color:#1866d6;background:rgba(255,255,255,0.72);border-radius:1.5px">36</div><div class="s" style="left:124.8px;top:87px;font-size:11px;font-weight:bold;line-height:12px;color:#e82020">N</div><div class="s" style="left:0;width:304px;text-align:center;top:391.6px;font-size:12.6px;font-weight:bold;line-height:13px;color:#111;text-decoration:underline;text-decoration-thickness:1px;text-underline-offset:2.6px">Search Criteria</div><div class="s" style="left:0;width:304px;text-align:center;top:413.7px;font-size:12.5px;line-height:12px;color:#111">CURRENT+PENDING</div><div class="s" style="left:0;width:304px;text-align:center;top:426.0px;font-size:12.5px;line-height:12px;color:#111">Address: exact</div><div class="s" style="left:0;width:304px;text-align:center;top:438.2px;font-size:12.5px;line-height:12px;color:#111">Woolwich, NJ</div><div class="s" style="left:0;width:304px;text-align:center;top:450.5px;font-size:12.5px;line-height:12px;color:#111">Zipcode 08085</div><div class="s" style="left:0;width:304px;text-align:center;top:487.8px;font-size:12.5px;line-height:12px;color:#111">db datecode</div><div class="s" style="left:0;width:304px;text-align:center;top:500.0px;font-size:12.5px;line-height:12px;color:#111">201203312324</div><div class="s" style="left:0;width:304px;text-align:center;top:590.5px;font-size:13px;line-height:13px;letter-spacing:0.8px;color:#1a1ac8;text-decoration:underline">www.tvfool.com</div><svg style="position:absolute;left:0;top:600px" width="800" height="168" viewBox="0 600 800 168"><rect x="38.8" y="637" width="10.3" height="122" fill="#e6e6e6"/><rect x="69.8" y="637" width="31.2" height="122" fill="#e6e6e6"/><line x1="9" y1="645.5" x2="173" y2="645.5" stroke="#666" stroke-width="1" stroke-dasharray="1,1"/><line x1="216" y1="645.5" x2="792" y2="645.5" stroke="#666" stroke-width="1" stroke-dasharray="1,1"/><line x1="9" y1="657.5" x2="173" y2="657.5" stroke="#666" stroke-width="1" stroke-dasharray="1,1"/><line x1="216" y1="657.5" x2="792" y2="657.5" stroke="#666" stroke-width="1" stroke-dasharray="1,1"/><line x1="9" y1="670.5" x2="173" y2="670.5" stroke="#666" stroke-width="1" stroke-dasharray="1,1"/><line x1="216" y1="670.5" x2="792" y2="670.5" stroke="#666" stroke-width="1" stroke-dasharray="1,1"/><line x1="9" y1="683.5" x2="173" y2="683.5" stroke="#666" stroke-width="1" stroke-dasharray="1,1"/><line x1="216" y1="683.5" x2="792" y2="683.5" stroke="#666" stroke-width="1" stroke-dasharray="1,1"/><line x1="9" y1="696.5" x2="173" y2="696.5" stroke="#666" stroke-width="1" stroke-dasharray="1,1"/><line x1="216" y1="696.5" x2="792" y2="696.5" stroke="#666" stroke-width="1" stroke-dasharray="1,1"/><line x1="9" y1="708.5" x2="173" y2="708.5" stroke="#666" stroke-width="1" stroke-dasharray="1,1"/><line x1="216" y1="708.5" x2="792" y2="708.5" stroke="#666" stroke-width="1" stroke-dasharray="1,1"/><line x1="9" y1="721.5" x2="173" y2="721.5" stroke="#666" stroke-width="1" stroke-dasharray="1,1"/><line x1="216" y1="721.5" x2="792" y2="721.5" stroke="#666" stroke-width="1" stroke-dasharray="1,1"/><line x1="9" y1="734.5" x2="173" y2="734.5" stroke="#666" stroke-width="1" stroke-dasharray="1,1"/><line x1="216" y1="734.5" x2="792" y2="734.5" stroke="#666" stroke-width="1" stroke-dasharray="1,1"/><line x1="9" y1="747.5" x2="173" y2="747.5" stroke="#666" stroke-width="1" stroke-dasharray="1,1"/><line x1="216" y1="747.5" x2="792" y2="747.5" stroke="#666" stroke-width="1" stroke-dasharray="1,1"/><path d="M7.6,760 V632.6 H13" fill="none" stroke="#111" stroke-width="1.7"/><path d="M60,632.6 H111" fill="none" stroke="#111" stroke-width="1.7"/><path d="M162,632.6 H173.5 V760" fill="none" stroke="#111" stroke-width="1.7"/><line x1="7" y1="760" x2="174" y2="760" stroke="#111" stroke-width="1.8"/><path d="M214.9,760 V632.6 H484" fill="none" stroke="#111" stroke-width="1.8"/><path d="M524,632.6 H792.4 V760" fill="none" stroke="#111" stroke-width="1.8"/><line x1="214" y1="760" x2="793" y2="760" stroke="#111" stroke-width="1.8"/></svg><div class="s" style="left:20.3px;top:627px;font-size:11.1px;font-weight:bold;line-height:11px;color:#111">VHF Lo</div><div class="s" style="left:119px;top:627px;font-size:10.9px;font-weight:bold;line-height:11px;color:#111">VHF Hi</div><div class="s" style="left:492.5px;top:627.8px;font-size:10.9px;font-weight:bold;line-height:11px;color:#111">UHF</div><div class="s" style="left:182.5px;top:626.6px;font-size:11.2px;line-height:11px;color:#111">dBm</div><div class="s" style="left:170px;width:32px;text-align:right;top:639.5px;font-size:10.8px;line-height:11px;color:#111">-10</div><div class="s" style="left:170px;width:32px;text-align:right;top:652.2px;font-size:10.8px;line-height:11px;color:#111">-20</div><div class="s" style="left:170px;width:32px;text-align:right;top:664.9px;font-size:10.8px;line-height:11px;color:#111">-30</div><div class="s" style="left:170px;width:32px;text-align:right;top:677.6px;font-size:10.8px;line-height:11px;color:#111">-40</div><div class="s" style="left:170px;width:32px;text-align:right;top:690.2px;font-size:10.8px;line-height:11px;color:#111">-50</div><div class="s" style="left:170px;width:32px;text-align:right;top:702.9px;font-size:10.8px;line-height:11px;color:#111">-60</div><div class="s" style="left:170px;width:32px;text-align:right;top:715.6px;font-size:10.8px;line-height:11px;color:#111">-70</div><div class="s" style="left:170px;width:32px;text-align:right;top:728.3px;font-size:10.8px;line-height:11px;color:#111">-80</div><div class="s" style="left:170px;width:32px;text-align:right;top:741.0px;font-size:10.8px;line-height:11px;color:#111">-90</div><div class="s" style="left:176.5px;top:752.5px;font-size:10px;line-height:11px;color:#111">Channel</div><div class="s" style="left:10.2px;width:5.7px;text-align:center;top:755.5px;font-size:7.8px;line-height:8px;color:#222;background:#fff">2</div><div class="s" style="left:30.8px;width:5.7px;text-align:center;top:755.5px;font-size:7.8px;line-height:8px;color:#222;background:#fff">4</div><div class="s" style="left:51.4px;width:5.7px;text-align:center;top:755.5px;font-size:7.8px;line-height:8px;color:#222;background:#fff">5</div><div class="s" style="left:61.8px;width:5.7px;text-align:center;top:755.5px;font-size:7.8px;line-height:8px;color:#222;background:#fff">6</div><div class="s" style="left:103.0px;width:5.7px;text-align:center;top:755.5px;font-size:7.8px;line-height:8px;color:#222;background:#fff">7</div><div class="s" style="left:123.7px;width:5.7px;text-align:center;top:755.5px;font-size:7.8px;line-height:8px;color:#222;background:#fff">9</div><div class="s" style="left:142.2px;width:10.0px;text-align:center;top:755.5px;font-size:7.8px;line-height:8px;color:#222;background:#fff">11</div><div class="s" style="left:162.9px;width:10.0px;text-align:center;top:755.5px;font-size:7.8px;line-height:8px;color:#222;background:#fff">13</div><div class="s" style="left:214.1px;width:10.0px;text-align:center;top:755.5px;font-size:7.8px;line-height:8px;color:#222;background:#fff">14</div><div class="s" style="left:234.7px;width:10.0px;text-align:center;top:755.5px;font-size:7.8px;line-height:8px;color:#222;background:#fff">16</div><div class="s" style="left:265.7px;width:10.0px;text-align:center;top:755.5px;font-size:7.8px;line-height:8px;color:#222;background:#fff">19</div><div class="s" style="left:296.7px;width:10.0px;text-align:center;top:755.5px;font-size:7.8px;line-height:8px;color:#222;background:#fff">22</div><div class="s" style="left:327.7px;width:10.0px;text-align:center;top:755.5px;font-size:7.8px;line-height:8px;color:#222;background:#fff">25</div><div class="s" style="left:358.7px;width:10.0px;text-align:center;top:755.5px;font-size:7.8px;line-height:8px;color:#222;background:#fff">28</div><div class="s" style="left:389.7px;width:10.0px;text-align:center;top:755.5px;font-size:7.8px;line-height:8px;color:#222;background:#fff">31</div><div class="s" style="left:420.7px;width:10.0px;text-align:center;top:755.5px;font-size:7.8px;line-height:8px;color:#222;background:#fff">34</div><div class="s" style="left:451.6px;width:10.0px;text-align:center;top:755.5px;font-size:7.8px;line-height:8px;color:#222;background:#fff">37</div><div class="s" style="left:482.6px;width:10.0px;text-align:center;top:755.5px;font-size:7.8px;line-height:8px;color:#222;background:#fff">40</div><div class="s" style="left:513.6px;width:10.0px;text-align:center;top:755.5px;font-size:7.8px;line-height:8px;color:#222;background:#fff">43</div><div class="s" style="left:544.6px;width:10.0px;text-align:center;top:755.5px;font-size:7.8px;line-height:8px;color:#222;background:#fff">46</div><div class="s" style="left:575.6px;width:10.0px;text-align:center;top:755.5px;font-size:7.8px;line-height:8px;color:#222;background:#fff">49</div><div class="s" style="left:606.6px;width:10.0px;text-align:center;top:755.5px;font-size:7.8px;line-height:8px;color:#222;background:#fff">52</div><div class="s" style="left:637.6px;width:10.0px;text-align:center;top:755.5px;font-size:7.8px;line-height:8px;color:#222;background:#fff">55</div><div class="s" style="left:668.6px;width:10.0px;text-align:center;top:755.5px;font-size:7.8px;line-height:8px;color:#222;background:#fff">58</div><div class="s" style="left:699.6px;width:10.0px;text-align:center;top:755.5px;font-size:7.8px;line-height:8px;color:#222;background:#fff">61</div><div class="s" style="left:730.5px;width:10.0px;text-align:center;top:755.5px;font-size:7.8px;line-height:8px;color:#222;background:#fff">64</div><div class="s" style="left:761.5px;width:10.0px;text-align:center;top:755.5px;font-size:7.8px;line-height:8px;color:#222;background:#fff">67</div><div class="s" style="left:782.2px;width:10.0px;text-align:center;top:755.5px;font-size:7.8px;line-height:8px;color:#222;background:#fff">69</div><div style="position:absolute;left:347px;top:617.5px;width:6.8px;height:10.5px;background:#c00000"><span class="wl" style="color:#fff;width:6.8px">c</span></div><div class="s" style="left:361.2px;top:618.3px;font-size:11px;line-height:12px;letter-spacing:0.85px;color:#111">= Co-channel warning</div><div style="position:absolute;left:557.9px;top:618px;width:6.5px;height:10.5px;background:#ff7f7f"><span class="wl" style="color:#fff;width:6.5px">a</span></div><div class="s" style="left:571.8px;top:618.3px;font-size:11px;line-height:12px;letter-spacing:0.9px;color:#111">= Adjacent channel warning</div><div style="position:absolute;left:390.5px;top:666.7px;width:8.4px;height:3px;border-radius:1.5px;background:#0c4fc2;box-shadow:0 0 0 0.6px #0a2a80"></div><div class="s" style="left:392.1px;top:662.7px;font-size:9.1px;letter-spacing:0.2px;line-height:7px;padding:0 0.5px;color:#1866d6;background:rgba(255,255,255,0.72);transform-origin:0 0;transform:rotate(-90deg)">WPPX-DT</div><div style="position:absolute;left:338.8px;top:666.8px;width:8.4px;height:3px;border-radius:1.5px;background:#0c4fc2;box-shadow:0 0 0 0.6px #0a2a80"></div><div class="s" style="left:340.4px;top:662.8px;font-size:9.1px;letter-spacing:0.2px;line-height:7px;padding:0 0.5px;color:#1866d6;background:rgba(255,255,255,0.72);transform-origin:0 0;transform:rotate(-90deg)">KYW-TV</div><div style="position:absolute;left:245.8px;top:666.8px;width:8.4px;height:3px;border-radius:1.5px;background:#0c4fc2;box-shadow:0 0 0 0.6px #0a2a80"></div><div class="s" style="left:247.4px;top:662.8px;font-size:9.1px;letter-spacing:0.2px;line-height:7px;padding:0 0.5px;color:#1866d6;background:rgba(255,255,255,0.72);transform-origin:0 0;transform:rotate(-90deg)">WPHL-DT</div><div style="position:absolute;left:421.5px;top:668.4px;width:8.4px;height:3px;border-radius:1.5px;background:#0c4fc2;box-shadow:0 0 0 0.6px #0a2a80"></div><div class="s" style="left:423.1px;top:664.4px;font-size:9.1px;letter-spacing:0.2px;line-height:7px;padding:0 0.5px;color:#1866d6;background:rgba(255,255,255,0.72);transform-origin:0 0;transform:rotate(-90deg)">WCAU</div><div style="position:absolute;left:431.8px;top:671.2px;width:8.4px;height:3px;border-radius:1.5px;background:#0c4fc2;box-shadow:0 0 0 0.6px #0a2a80"></div><div class="s" style="left:433.4px;top:667.2px;font-size:9.1px;letter-spacing:0.2px;line-height:7px;padding:0 0.5px;color:#1866d6;background:rgba(255,255,255,0.72);transform-origin:0 0;transform:rotate(-90deg)">WYBE</div><div style="position:absolute;left:60.4px;top:671.5px;width:8.4px;height:3px;border-radius:1.5px;background:#0c4fc2;box-shadow:0 0 0 0.6px #0a2a80,0 0 0 2.2px #f4f000"></div><div class="s" style="left:62.0px;top:667.5px;font-size:9.1px;letter-spacing:0.2px;line-height:7px;padding:0 0.5px;color:#1866d6;background:rgba(255,255,255,0.72);transform-origin:0 0;transform:rotate(-90deg)">WPVI-DT</div><div style="position:absolute;left:504.1px;top:673.7px;width:8.4px;height:3px;border-radius:1.5px;background:#0c4fc2;box-shadow:0 0 0 0.6px #0a2a80"></div><div class="s" style="left:505.7px;top:669.7px;font-size:9.1px;letter-spacing:0.2px;line-height:7px;padding:0 0.5px;color:#1866d6;background:rgba(255,255,255,0.72);transform-origin:0 0;transform:rotate(-90deg)">WTXF-TV</div><div style="position:absolute;left:400.8px;top:674.1px;width:8.4px;height:3px;border-radius:1.5px;background:#0c4fc2;box-shadow:0 0 0 0.6px #0a2a80"></div><div class="s" style="left:402.4px;top:670.1px;font-size:9.1px;letter-spacing:0.2px;line-height:7px;padding:0 0.5px;color:#1866d6;background:rgba(255,255,255,0.72);transform-origin:0 0;transform:rotate(-90deg)">WPSG-DT</div><div style="position:absolute;left:153.4px;top:675.0px;width:8.4px;height:3px;border-radius:1.5px;background:#0c4fc2;box-shadow:0 0 0 0.6px #0a2a80,0 0 0 2.2px #f4f000"></div><div class="s" style="left:155.0px;top:671.0px;font-size:9.1px;letter-spacing:0.2px;line-height:7px;padding:0 0.5px;color:#1866d6;background:rgba(255,255,255,0.72);transform-origin:0 0;transform:rotate(-90deg)">WHYY-TV</div><div style="position:absolute;left:349.1px;top:676.1px;width:8.4px;height:3px;border-radius:1.5px;background:#0c4fc2;box-shadow:0 0 0 0.6px #0a2a80"></div><div class="s" style="left:350.7px;top:672.1px;font-size:9.1px;letter-spacing:0.2px;line-height:7px;padding:0 0.5px;color:#1866d6;background:rgba(255,255,255,0.72);transform-origin:0 0;transform:rotate(-90deg)">WGTW-DT</div><div style="position:absolute;left:369.8px;top:676.7px;width:8.4px;height:3px;border-radius:1.5px;background:#0c4fc2;box-shadow:0 0 0 0.6px #0a2a80"></div><div class="s" style="left:371.4px;top:672.7px;font-size:9.1px;letter-spacing:0.2px;line-height:7px;padding:0 0.5px;color:#1866d6;background:rgba(255,255,255,0.72);transform-origin:0 0;transform:rotate(-90deg)">WUVP-DT</div><div style="position:absolute;left:576.4px;top:676.7px;width:8.4px;height:3px;border-radius:1.5px;background:#0c4fc2;box-shadow:0 0 0 0.6px #0a2a80"></div><div class="s" style="left:578.0px;top:672.7px;font-size:9.1px;letter-spacing:0.2px;line-height:7px;padding:0 0.5px;color:#1866d6;background:rgba(255,255,255,0.72);transform-origin:0 0;transform:rotate(-90deg)">WWSI</div><div style="position:absolute;left:328.5px;top:676.9px;width:8.4px;height:3px;border-radius:1.5px;background:#0c4fc2;box-shadow:0 0 0 0.6px #0a2a80"></div><div class="s" style="left:330.1px;top:672.9px;font-size:9.1px;letter-spacing:0.2px;line-height:7px;padding:0 0.5px;color:#1866d6;background:rgba(255,255,255,0.72);transform-origin:0 0;transform:rotate(-90deg)">WTVE</div><div style="position:absolute;left:297.5px;top:677.9px;width:8.4px;height:3px;border-radius:1.5px;background:#0c4fc2;box-shadow:0 0 0 0.6px #0a2a80"></div><div class="s" style="left:299.1px;top:673.9px;font-size:9.1px;letter-spacing:0.2px;line-height:7px;padding:0 0.5px;color:#1866d6;background:rgba(255,255,255,0.72);transform-origin:0 0;transform:rotate(-90deg)">WNJS</div><div style="position:absolute;left:235.5px;top:688.2px;width:8.4px;height:3px;border-radius:1.5px;background:#0c4fc2;box-shadow:0 0 0 0.6px #0a2a80"></div><div class="s" style="left:237.1px;top:684.2px;font-size:9.1px;letter-spacing:0.2px;line-height:7px;padding:0 0.5px;color:#1866d6;background:rgba(255,255,255,0.72);transform-origin:0 0;transform:rotate(-90deg)">WTSD-CA</div><div style="position:absolute;left:19.1px;top:688.9px;width:8.4px;height:3px;border-radius:1.5px;background:#0c4fc2;box-shadow:0 0 0 0.6px #0a2a80,0 0 0 2.2px #f4f000"></div><div class="s" style="left:20.7px;top:684.9px;font-size:9.1px;letter-spacing:0.2px;line-height:7px;padding:0 0.5px;color:#1866d6;background:rgba(255,255,255,0.72);transform-origin:0 0;transform:rotate(-90deg)">WFPA-CA</div><div style="position:absolute;left:380.1px;top:693.1px;width:8.4px;height:3px;border-radius:1.5px;background:#0c4fc2;box-shadow:0 0 0 0.6px #0a2a80"></div><div class="s" style="left:381.7px;top:689.1px;font-size:9.1px;letter-spacing:0.2px;line-height:7px;padding:0 0.5px;color:#1866d6;background:rgba(255,255,255,0.72);transform-origin:0 0;transform:rotate(-90deg)">WELL-LD</div><div style="position:absolute;left:524.8px;top:694.6px;width:8.4px;height:3px;border-radius:1.5px;background:#0c4fc2;box-shadow:0 0 0 0.6px #0a2a80"></div><div class="s" style="left:526.4px;top:690.6px;font-size:9.1px;letter-spacing:0.2px;line-height:7px;padding:0 0.5px;color:#1866d6;background:rgba(255,255,255,0.72);transform-origin:0 0;transform:rotate(-90deg)">WMCN-DT</div><div style="position:absolute;left:411.1px;top:681.6px;width:8.4px;height:3px;border-radius:1.5px;background:#7010c0;box-shadow:0 0 0 0.6px #400080"></div><div class="s" style="left:412.7px;top:677.6px;font-size:9.1px;letter-spacing:0.2px;line-height:7px;padding:0 0.5px;color:#9122d0;background:rgba(255,255,255,0.72);transform-origin:0 0;transform:rotate(-90deg)">WZPA-LP</div><div style="position:absolute;left:597.1px;top:697.7px;width:8.4px;height:3px;border-radius:1.5px;background:#0c4fc2;box-shadow:0 0 0 0.6px #0a2a80"></div><div class="s" style="left:598.7px;top:693.7px;font-size:9.1px;letter-spacing:0.2px;line-height:7px;padding:0 0.5px;color:#1866d6;background:rgba(255,255,255,0.72);transform-origin:0 0;transform:rotate(-90deg)">WPSJ-LD</div><div style="position:absolute;left:462.8px;top:699.3px;width:8.4px;height:3px;border-radius:1.5px;background:#7aa4e4;box-shadow:0 0 0 0.6px #6090d0"></div><div class="s" style="left:464.4px;top:695.3px;font-size:9.1px;letter-spacing:0.2px;line-height:7px;padding:0 0.5px;color:#8ab0e8;background:rgba(255,255,255,0.72);transform-origin:0 0;transform:rotate(-90deg)">WPHA-CD</div><div style="position:absolute;left:101.7px;top:685.0px;width:8.4px;height:3px;border-radius:1.5px;background:#7010c0;box-shadow:0 0 0 0.6px #400080,0 0 0 2.2px #f4f000"></div><div class="s" style="left:103.3px;top:681.0px;font-size:9.1px;letter-spacing:0.2px;line-height:7px;padding:0 0.5px;color:#9122d0;background:rgba(255,255,255,0.72);transform-origin:0 0;transform:rotate(-90deg)">WWJT-LP</div><div style="position:absolute;left:462.8px;top:685.1px;width:8.4px;height:3px;border-radius:1.5px;background:#c89ae8;box-shadow:0 0 0 0.6px #b080e0"></div><div class="s" style="left:464.4px;top:681.1px;font-size:9.1px;letter-spacing:0.2px;line-height:7px;padding:0 0.5px;color:#c79ae8;background:rgba(255,255,255,0.72);transform-origin:0 0;transform:rotate(-90deg)">WPHA-CA</div><div style="position:absolute;left:411.1px;top:701.2px;width:8.4px;height:3px;border-radius:1.5px;background:#0c4fc2;box-shadow:0 0 0 0.6px #0a2a80"></div><div class="s" style="left:412.7px;top:697.2px;font-size:9.1px;letter-spacing:0.2px;line-height:7px;padding:0 0.5px;color:#1866d6;background:rgba(255,255,255,0.72);transform-origin:0 0;transform:rotate(-90deg)">WZPA-LP</div><div style="position:absolute;left:214.9px;top:688.8px;width:8.4px;height:3px;border-radius:1.5px;background:#7010c0;box-shadow:0 0 0 0.6px #400080"></div><div class="s" style="left:216.5px;top:684.8px;font-size:9.1px;letter-spacing:0.2px;line-height:7px;padding:0 0.5px;color:#9122d0;background:rgba(255,255,255,0.72);transform-origin:0 0;transform:rotate(-90deg)">WTSD-CA</div><div style="position:absolute;left:307.8px;top:704.9px;width:8.4px;height:3px;border-radius:1.5px;background:#0c4fc2;box-shadow:0 0 0 0.6px #0a2a80"></div><div class="s" style="left:309.4px;top:700.9px;font-size:9.1px;letter-spacing:0.2px;line-height:7px;padding:0 0.5px;color:#1866d6;background:rgba(255,255,255,0.72);transform-origin:0 0;transform:rotate(-90deg)">WNAI-LP</div><div style="position:absolute;left:586.7px;top:707.7px;width:8.4px;height:3px;border-radius:1.5px;background:#0c4fc2;box-shadow:0 0 0 0.6px #0a2a80"></div><div class="s" style="left:588.3px;top:703.7px;font-size:9.1px;letter-spacing:0.2px;line-height:7px;padding:0 0.5px;color:#1866d6;background:rgba(255,255,255,0.72);transform-origin:0 0;transform:rotate(-90deg)">W50DZ-D</div><div style="position:absolute;left:566.1px;top:711.8px;width:8.4px;height:3px;border-radius:1.5px;background:#0c4fc2;box-shadow:0 0 0 0.6px #0a2a80"></div><div class="s" style="left:567.7px;top:707.8px;font-size:9.1px;letter-spacing:0.2px;line-height:7px;padding:0 0.5px;color:#1866d6;background:rgba(255,255,255,0.72);transform-origin:0 0;transform:rotate(-90deg)">WWJT-LD</div><div style="position:absolute;left:359.5px;top:697.5px;width:8.4px;height:3px;border-radius:1.5px;background:#7010c0;box-shadow:0 0 0 0.6px #400080"></div><div class="s" style="left:361.1px;top:693.5px;font-size:9.1px;letter-spacing:0.2px;line-height:7px;padding:0 0.5px;color:#9122d0;background:rgba(255,255,255,0.72);transform-origin:0 0;transform:rotate(-90deg)">WFPA-CA</div><div style="position:absolute;left:318.2px;top:698.2px;width:8.4px;height:3px;border-radius:1.5px;background:#7010c0;box-shadow:0 0 0 0.6px #400080"></div><div class="s" style="left:319.8px;top:694.2px;font-size:9.1px;letter-spacing:0.2px;line-height:7px;padding:0 0.5px;color:#9122d0;background:rgba(255,255,255,0.72);transform-origin:0 0;transform:rotate(-90deg)">WPSJ-LP</div><div style="position:absolute;left:514.4px;top:716.5px;width:8.4px;height:3px;border-radius:1.5px;background:#7aa4e4;box-shadow:0 0 0 0.6px #6090d0"></div><div class="s" style="left:516.0px;top:712.5px;font-size:9.1px;letter-spacing:0.2px;line-height:7px;padding:0 0.5px;color:#8ab0e8;background:rgba(255,255,255,0.72);transform-origin:0 0;transform:rotate(-90deg)">WNJT-DT</div><div style="position:absolute;left:122.4px;top:716.6px;width:8.4px;height:3px;border-radius:1.5px;background:#0c4fc2;box-shadow:0 0 0 0.6px #0a2a80,0 0 0 2.2px #f4f000"></div><div class="s" style="left:124.0px;top:712.6px;font-size:9.1px;letter-spacing:0.2px;line-height:7px;padding:0 0.5px;color:#1866d6;background:rgba(255,255,255,0.72);transform-origin:0 0;transform:rotate(-90deg)">WBPH-TV</div><div style="position:absolute;left:483.4px;top:707.6px;width:8.4px;height:3px;border-radius:1.5px;background:#7010c0;box-shadow:0 0 0 0.6px #400080"></div><div class="s" style="left:485.0px;top:703.6px;font-size:9.1px;letter-spacing:0.2px;line-height:7px;padding:0 0.5px;color:#9122d0;background:rgba(255,255,255,0.72);transform-origin:0 0;transform:rotate(-90deg)">WWDD-LP</div><div style="position:absolute;left:545.4px;top:726.5px;width:8.4px;height:3px;border-radius:1.5px;background:#7aa4e4;box-shadow:0 0 0 0.6px #6090d0"></div><div class="s" style="left:547.0px;top:722.5px;font-size:9.1px;letter-spacing:0.2px;line-height:7px;padding:0 0.5px;color:#8ab0e8;background:rgba(255,255,255,0.72);transform-origin:0 0;transform:rotate(-90deg)">WFMZ-TV</div><div style="position:absolute;left:545.4px;top:726.5px;width:8.4px;height:3px;border-radius:1.5px;background:#7aa4e4;box-shadow:0 0 0 0.6px #6090d0"></div><div class="s" style="left:547.0px;top:722.5px;font-size:9.1px;letter-spacing:0.2px;line-height:7px;padding:0 0.5px;color:#8ab0e8;background:rgba(255,255,255,0.72);transform-origin:0 0;transform:rotate(-90deg)">WFMZ-TV</div><div style="position:absolute;left:442.1px;top:729.0px;width:8.4px;height:3px;border-radius:1.5px;background:#7aa4e4;box-shadow:0 0 0 0.6px #6090d0"></div><div class="s" style="left:443.7px;top:725.0px;font-size:9.1px;letter-spacing:0.2px;line-height:7px;padding:0 0.5px;color:#8ab0e8;background:rgba(255,255,255,0.72);transform-origin:0 0;transform:rotate(-90deg)">W36DO-D</div><div style="position:absolute;left:514.4px;top:735.2px;width:8.4px;height:3px;border-radius:1.5px;background:#7aa4e4;box-shadow:0 0 0 0.6px #6090d0"></div><div class="s" style="left:516.0px;top:731.2px;font-size:9.1px;letter-spacing:0.2px;line-height:7px;padding:0 0.5px;color:#8ab0e8;background:rgba(255,255,255,0.72);transform-origin:0 0;transform:rotate(-90deg)">W43CH</div><div style="position:absolute;left:545.4px;top:737.5px;width:8.4px;height:3px;border-radius:1.5px;background:#7aa4e4;box-shadow:0 0 0 0.6px #6090d0"></div><div class="s" style="left:547.0px;top:733.5px;font-size:9.1px;letter-spacing:0.2px;line-height:7px;padding:0 0.5px;color:#8ab0e8;background:rgba(255,255,255,0.72);transform-origin:0 0;transform:rotate(-90deg)">WFMZ-TV</div><div style="position:absolute;left:112.0px;top:739.9px;width:8.4px;height:3px;border-radius:1.5px;background:#7aa4e4;box-shadow:0 0 0 0.6px #6090d0,0 0 0 2.2px #f2ee90"></div><div class="s" style="left:113.6px;top:735.9px;font-size:9.1px;letter-spacing:0.2px;line-height:7px;padding:0 0.5px;color:#8ab0e8;background:rgba(255,255,255,0.72);transform-origin:0 0;transform:rotate(-90deg)">WNJB</div><div style="position:absolute;left:473.1px;top:742.0px;width:8.4px;height:3px;border-radius:1.5px;background:#0c4fc2;box-shadow:0 0 0 0.6px #0a2a80"></div><div class="s" style="left:474.7px;top:738.0px;font-size:9.1px;letter-spacing:0.2px;line-height:7px;padding:0 0.5px;color:#1866d6;background:rgba(255,255,255,0.72);transform-origin:0 0;transform:rotate(-90deg)">WLVT-TV</div><div style="position:absolute;left:493.8px;top:729.0px;width:8.4px;height:3px;border-radius:1.5px;background:#c89ae8;box-shadow:0 0 0 0.6px #b080e0"></div><div class="s" style="left:495.4px;top:725.0px;font-size:9.1px;letter-spacing:0.2px;line-height:7px;padding:0 0.5px;color:#c79ae8;background:rgba(255,255,255,0.72);transform-origin:0 0;transform:rotate(-90deg)">WNAI-LP</div><div style="position:absolute;left:112.0px;top:745.0px;width:8.4px;height:3px;border-radius:1.5px;background:#7aa4e4;box-shadow:0 0 0 0.6px #6090d0,0 0 0 2.2px #f2ee90"></div><div class="s" style="left:113.6px;top:741.0px;font-size:9.1px;letter-spacing:0.2px;line-height:7px;padding:0 0.5px;color:#8ab0e8;background:rgba(255,255,255,0.72);transform-origin:0 0;transform:rotate(-90deg)">WGAL</div><div style="position:absolute;left:462.8px;top:745.0px;width:8.4px;height:3px;border-radius:1.5px;background:#7aa4e4;box-shadow:0 0 0 0.6px #6090d0"></div><div class="s" style="left:464.4px;top:741.0px;font-size:9.1px;letter-spacing:0.2px;line-height:7px;padding:0 0.5px;color:#8ab0e8;background:rgba(255,255,255,0.72);transform-origin:0 0;transform:rotate(-90deg)">WMAR-TV</div><div style="position:absolute;left:576.4px;top:745.5px;width:8.4px;height:3px;border-radius:1.5px;background:#7aa4e4;box-shadow:0 0 0 0.6px #6090d0"></div><div class="s" style="left:578.0px;top:741.5px;font-size:9.1px;letter-spacing:0.2px;line-height:7px;padding:0 0.5px;color:#8ab0e8;background:rgba(255,255,255,0.72);transform-origin:0 0;transform:rotate(-90deg)">WWDD-LP</div><div style="position:absolute;left:143.0px;top:747.0px;width:8.4px;height:3px;border-radius:1.5px;background:#7aa4e4;box-shadow:0 0 0 0.6px #6090d0,0 0 0 2.2px #f2ee90"></div><div class="s" style="left:144.6px;top:743.0px;font-size:9.1px;letter-spacing:0.2px;line-height:7px;padding:0 0.5px;color:#8ab0e8;background:rgba(255,255,255,0.72);transform-origin:0 0;transform:rotate(-90deg)">WBAL-TV</div><div style="position:absolute;left:163.7px;top:747.8px;width:8.4px;height:3px;border-radius:1.5px;background:#7aa4e4;box-shadow:0 0 0 0.6px #6090d0,0 0 0 2.2px #f2ee90"></div><div class="s" style="left:165.3px;top:743.8px;font-size:9.1px;letter-spacing:0.2px;line-height:7px;padding:0 0.5px;color:#8ab0e8;background:rgba(255,255,255,0.72);transform-origin:0 0;transform:rotate(-90deg)">WJZ-TV</div><div style="position:absolute;left:555.7px;top:751.1px;width:8.4px;height:3px;border-radius:1.5px;background:#7aa4e4;box-shadow:0 0 0 0.6px #6090d0"></div><div class="s" style="left:557.3px;top:747.1px;font-size:9.1px;letter-spacing:0.2px;line-height:7px;padding:0 0.5px;color:#8ab0e8;background:rgba(255,255,255,0.72);transform-origin:0 0;transform:rotate(-90deg)">WPMT</div><div style="position:absolute;left:493.8px;top:752.1px;width:8.4px;height:3px;border-radius:1.5px;background:#7aa4e4;box-shadow:0 0 0 0.6px #6090d0"></div><div class="s" style="left:495.4px;top:748.1px;font-size:9.1px;letter-spacing:0.2px;line-height:7px;padding:0 0.5px;color:#8ab0e8;background:rgba(255,255,255,0.72);transform-origin:0 0;transform:rotate(-90deg)">WUTB</div><div style="position:absolute;left:535.1px;top:754.3px;width:8.4px;height:3px;border-radius:1.5px;background:#7aa4e4;box-shadow:0 0 0 0.6px #6090d0"></div><div class="s" style="left:536.7px;top:750.3px;font-size:9.1px;letter-spacing:0.2px;line-height:7px;padding:0 0.5px;color:#8ab0e8;background:rgba(255,255,255,0.72);transform-origin:0 0;transform:rotate(-90deg)">WFMZ-TV</div><div style="position:absolute;left:483.4px;top:756.4px;width:8.4px;height:3px;border-radius:1.5px;background:#7aa4e4;box-shadow:0 0 0 0.6px #6090d0"></div><div class="s" style="left:485.0px;top:752.4px;font-size:9.1px;letter-spacing:0.2px;line-height:7px;padding:0 0.5px;color:#8ab0e8;background:rgba(255,255,255,0.72);transform-origin:0 0;transform:rotate(-90deg)">WNUV-DT</div><div style="position:absolute;left:380.1px;top:757.1px;width:8.4px;height:3px;border-radius:1.5px;background:#7aa4e4;box-shadow:0 0 0 0.6px #6090d0"></div><div class="s" style="left:381.7px;top:753.1px;font-size:9.1px;letter-spacing:0.2px;line-height:7px;padding:0 0.5px;color:#8ab0e8;background:rgba(255,255,255,0.72);transform-origin:0 0;transform:rotate(-90deg)">WGCB-DT</div></body></html>
